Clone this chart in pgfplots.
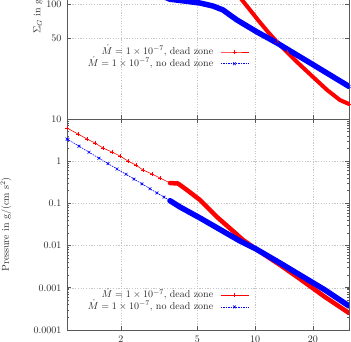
\documentclass[border=0pt]{standalone}
\usepackage{pgfplots}
\pgfplotsset{compat=1.18}
\definecolor{gpred}{RGB}{255,0,0}
\definecolor{gpblue}{RGB}{0,0,255}
\begin{document}
\begin{tikzpicture}
% ---------------- top panel ----------------
\begin{axis}[xmode=log, ymode=log, scale only axis, width=282pt, height=230pt,
  at={(67pt,223pt)}, anchor=south west,
  xmin=1.047, xmax=30.8, xtick={2,5,10,20}, xminorticks=false, xticklabels={},
  ymin=10, ymax=1000, ytick={10,50,100}, yticklabels={,50,100},
  yminorticks=false,
  axis line style={black!65, line width=0.9pt},
  major tick style={black!65, line width=0.6pt},
  major tick length=4pt,
  xmajorgrids, ymajorgrids, major grid style={dash pattern=on 1.2pt off 1.5pt, black!22, line width=0.5pt},
  yticklabel style={font=\fontsize{10}{12}\selectfont, text=black!85, xshift=-2pt},
  ylabel={$\Sigma_G$ in g/cm$^2$},
  ylabel style={font=\fontsize{10}{12}\selectfont, text=black!85, at={(axis description cs:-0.1046,0.493)}, anchor=center},
  legend image code/.code={\draw[mark repeat=2,mark phase=2,#1] plot coordinates {(0pt,0pt) (14pt,0pt) (28pt,0pt)};},
  legend cell align=right, legend plot pos=right,
  legend style={at={(axis description cs:0.6454,0.3139)}, anchor=north east,
    draw=none, fill=none, inner sep=0pt, row sep=1.7pt,
    nodes={inner sep=0pt, text height=7.5pt, text depth=2.5pt},
    font=\fontsize{10}{12}\selectfont, text=black!85,
    /tikz/every odd column/.append style={column sep=7pt}}]
\addplot[gpred, line width=0.6pt, mark=+, mark size=2pt] coordinates {(8.54,108.3)(9.40,88.7)(10.34,72.6)(11.66,57.1)(12.99,46.7)(14.64,38.2)(16.51,31.3)(20.0,23.2)(23.66,17.9)(27.65,14.6)(30.8,13.5)};
\addlegendentry{$\dot M = 1\times10^{-7}$, dead zone}
\addplot[gpblue, line width=0.6pt, dash pattern=on 1.5pt off 1pt, mark=x, mark size=2pt, mark options={solid}] coordinates {(4.31,106)(5.16,102)(6.03,96)(6.80,88.7)(7.39,80.2)(8.04,72.6)(9.06,64.4)(10.22,57.1)(11.54,51.1)(12.99,45.8)(16.51,36.0)(20.0,29.7)(25.42,23.3)(30.8,19.2)};
\addlegendentry{$\dot M = 1\times10^{-7}$, no dead zone}
\addplot[gpred, line width=4pt, line cap=round, line join=round, forget plot] coordinates {(6.0,230)(7.0,165)(8.54,108.3)(9.40,88.7)(10.34,72.6)(11.66,57.1)(12.99,46.7)(14.64,38.2)(16.51,31.3)(20.0,23.2)(23.66,17.9)(27.65,14.6)(30.8,13.5)};
\addplot[gpblue, line width=5.5pt, line cap=round, line join=round, forget plot] coordinates {(1.047,300)(2.0,170)(3.0,125)(3.60,110)(4.31,106)(5.16,102)(6.03,96)(6.80,88.7)(7.39,80.2)(8.04,72.6)(9.06,64.4)(10.22,57.1)(11.54,51.1)(12.99,45.8)(16.51,36.0)(20.0,29.7)(25.42,23.3)(30.8,19.2)};
\end{axis}
% ---------------- bottom panel ----------------
\begin{axis}[xmode=log, ymode=log, scale only axis, width=282pt, height=211pt,
  at={(67pt,12pt)}, anchor=south west,
  xmin=1.047, xmax=30.8, xtick={2,5,10,20}, xminorticks=false, xticklabels={2,5,10,20},
  ymin=0.0001, ymax=10, ytick={0.0001,0.001,0.01,0.1,1,10},
  yticklabels={0.0001,0.001,0.01,0.1,1,10},
  axis line style={black!65, line width=0.9pt},
  major tick style={black!65, line width=0.6pt},
  minor tick style={black!65, line width=0.5pt},
  major tick length=4pt, minor tick length=2.5pt,
  xmajorgrids, ymajorgrids, major grid style={dash pattern=on 1.2pt off 1.5pt, black!22, line width=0.5pt},
  yticklabel style={font=\fontsize{10}{12}\selectfont, text=black!85, xshift=-2pt},
  xticklabel style={font=\fontsize{10}{12}\selectfont, text=black!85, yshift=-2pt},
  ylabel={Pressure in g/(cm s$^2$)},
  ylabel style={font=\fontsize{10}{12}\selectfont, text=black!85, at={(axis description cs:-0.2163,0.5)}, anchor=center},
  legend image code/.code={\draw[mark repeat=2,mark phase=2,#1] plot coordinates {(0pt,0pt) (14pt,0pt) (28pt,0pt)};},
  legend cell align=right, legend plot pos=right,
  legend style={at={(axis description cs:0.6454,0.1896)}, anchor=north east,
    draw=none, fill=none, inner sep=0pt, row sep=1.7pt,
    nodes={inner sep=0pt, text height=7.5pt, text depth=2.5pt},
    font=\fontsize{10}{12}\selectfont, text=black!85,
    /tikz/every odd column/.append style={column sep=7pt}}]
\addplot[gpred, line width=0.6pt, mark=+, mark size=2pt] coordinates {(1.047,6.12)(1.194,4.41)(1.330,3.36)(1.464,2.70)(1.612,2.05)(1.795,1.65)(1.976,1.33)(2.175,1.01)(2.394,0.81)(2.604,0.619)(2.901,0.498)(3.192,0.40)(3.600,0.304)};
\addlegendentry{$\dot M = 1\times10^{-7}$, dead zone}
\addplot[gpred, line width=4.5pt, line cap=round, line join=round, forget plot] coordinates {(3.600,0.304)(3.963,0.296)(4.414,0.2077)(5.158,0.1205)(5.815,0.0698)(6.324,0.0476)(7.660,0.0222)(8.641,0.0136)(10.1,0.0083)(13.47,0.00347)(17.12,0.00162)(23.1,0.000605)(30.8,0.000253)};
\addplot[gpblue, line width=0.6pt, dash pattern=on 1.5pt off 1pt, mark=x, mark size=2pt, mark options={solid}] coordinates {(1.047,3.36)(1.059,3.25)(1.209,2.27)(1.363,1.63)(1.536,1.18)(1.712,0.877)(1.906,0.653)(2.124,0.490)(2.338,0.377)(2.573,0.290)(2.832,0.223)(3.080,0.177)(3.350,0.141)(3.600,0.116)};
\addlegendentry{$\dot M = 1\times10^{-7}$, no dead zone}
\addplot[gpblue, line width=5.5pt, line cap=round, line join=round, forget plot] coordinates {(3.60,0.116)(4.058,0.0822)(5.16,0.0451)(6.555,0.0241)(8.33,0.01285)(10.1,0.0083)(13.47,0.00387)(17.12,0.00201)(23.1,0.000887)(30.8,0.000371)};
\end{axis}
\pgfresetboundingbox
\useasboundingbox (0,0) rectangle (351pt,342pt);
\end{tikzpicture}
\end{document}
